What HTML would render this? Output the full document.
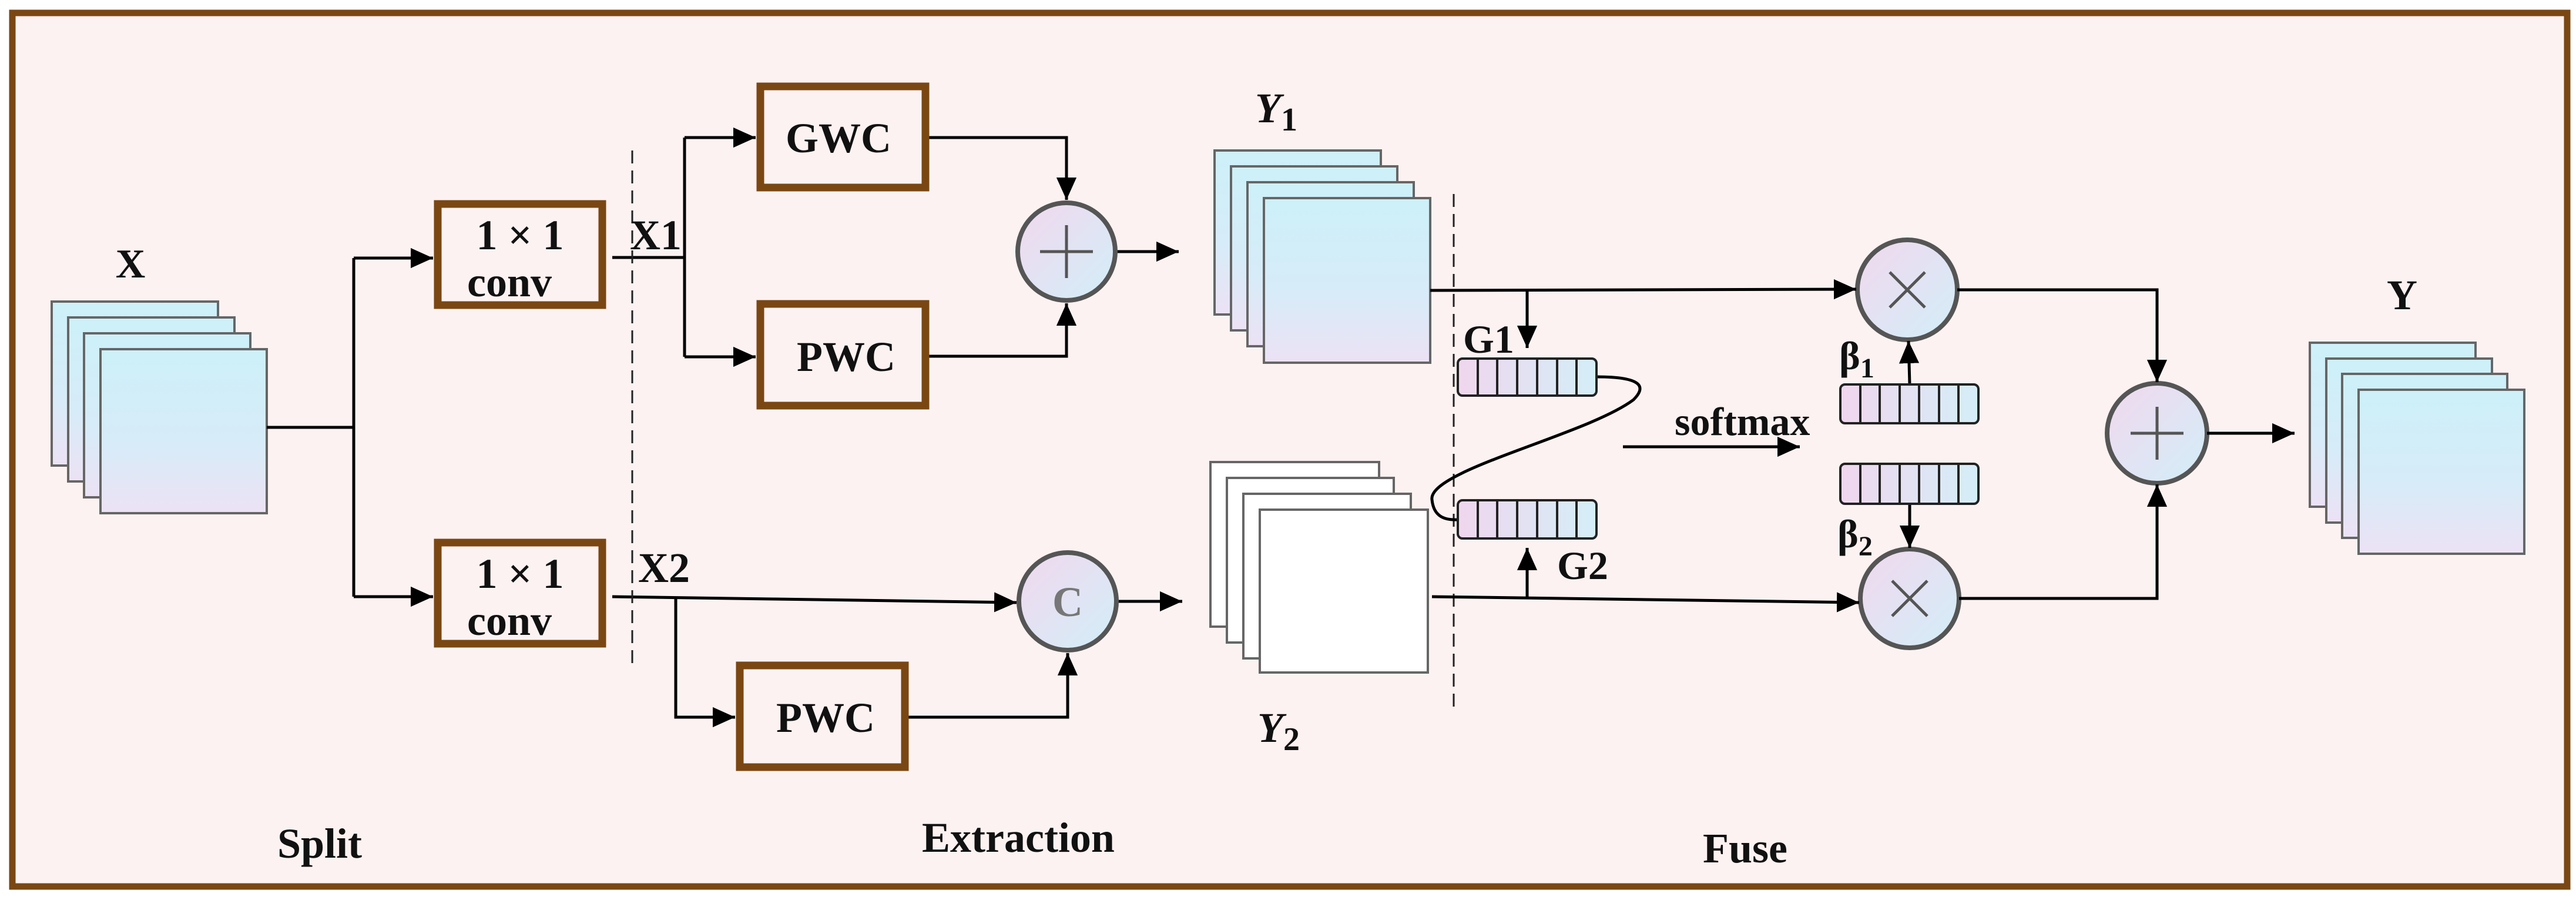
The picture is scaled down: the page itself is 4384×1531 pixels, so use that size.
<!DOCTYPE html>
<html><head><meta charset="utf-8"><style>
html,body{margin:0;padding:0;background:#fff}
svg{display:block}
text{font-family:"Liberation Serif",serif;font-weight:bold;fill:#111}
</style></head><body>
<svg width="4384" height="1531" viewBox="0 0 4384 1531" xmlns="http://www.w3.org/2000/svg">
<defs>
<linearGradient id="fm" x1="0" y1="0" x2="0" y2="1"><stop offset="0" stop-color="#cdf0f9"/><stop offset="0.55" stop-color="#d6ecf8"/><stop offset="1" stop-color="#ece2f5"/></linearGradient>
<linearGradient id="vec" x1="0" y1="0" x2="1" y2="0"><stop offset="0" stop-color="#f0d6ee"/><stop offset="1" stop-color="#d4eef8"/></linearGradient>
<linearGradient id="cir" x1="0" y1="0" x2="1" y2="1"><stop offset="0" stop-color="#f2d8ee"/><stop offset="1" stop-color="#d2eef8"/></linearGradient>
<marker id="a" viewBox="0 0 10 10" refX="10" refY="5" markerWidth="38" markerHeight="38" markerUnits="userSpaceOnUse" orient="auto"><path d="M0,0.5 L10,5 L0,9.5 z" fill="#000"/></marker>
</defs>
<rect x="0" y="0" width="4384" height="1531" fill="#fff"/>
<rect x="21" y="22" width="4348" height="1486" fill="#fdf2f2" stroke="#7a4713" stroke-width="11"/>

<g stroke="#666" stroke-width="4" fill="url(#fm)">
<rect x="88" y="513" width="283" height="279"/>
<rect x="116" y="540" width="283" height="279"/>
<rect x="143" y="567" width="283" height="279"/>
<rect x="171" y="594" width="283" height="279"/>
</g>
<text x="222" y="472" font-size="70" text-anchor="middle">X</text>

<g stroke="#000" stroke-width="5" fill="none">
<polyline points="454,727 602,727"/>
<polyline points="602,439 602,1015"/>
<line x1="602" y1="439" x2="737" y2="439" marker-end="url(#a)"/>
<line x1="602" y1="1015" x2="737" y2="1015" marker-end="url(#a)"/>
<polyline points="1042,438 1165,438"/>
<polyline points="1165,234 1165,607"/>
<line x1="1165" y1="234" x2="1286" y2="234" marker-end="url(#a)"/>
<line x1="1165" y1="607" x2="1286" y2="607" marker-end="url(#a)"/>
<polyline points="1581,234 1815,234 1815,340" marker-end="url(#a)"/>
<polyline points="1581,606 1815,606 1815,516" marker-end="url(#a)"/>
<line x1="1900" y1="428" x2="2006" y2="428" marker-end="url(#a)"/>
<line x1="1042" y1="1015" x2="1730" y2="1025" marker-end="url(#a)"/>
<polyline points="1150,1015 1150,1220 1251,1220" marker-end="url(#a)"/>
<polyline points="1546,1220 1817,1220 1817,1111" marker-end="url(#a)"/>
<line x1="1902" y1="1023" x2="2012" y2="1023" marker-end="url(#a)"/>
</g>

<line x1="1076" y1="256" x2="1076" y2="1137" stroke="#222" stroke-width="3" stroke-dasharray="22,12"/>
<line x1="2474" y1="330" x2="2474" y2="1210" stroke="#222" stroke-width="3" stroke-dasharray="22,12"/>

<g stroke="#7a4713" stroke-width="13" fill="none">
<rect x="745" y="347" width="280" height="172"/>
<rect x="745" y="923" width="280" height="172"/>
<rect x="1294" y="147" width="281" height="172"/>
<rect x="1294" y="517" width="281" height="173"/>
<rect x="1259" y="1132" width="281" height="173"/>
</g>
<g font-size="72" text-anchor="middle">
<text x="885" y="424">1 × 1</text>
<text x="867" y="504">conv</text>
<text x="885" y="1000">1 × 1</text>
<text x="867" y="1080">conv</text>
<text x="1427" y="259">GWC</text>
<text x="1440" y="631">PWC</text>
<text x="1405" y="1245">PWC</text>
<text x="1116" y="424">X1</text>
<text x="1130" y="990">X2</text>
</g>

<g stroke="#555" stroke-width="8" fill="url(#cir)">
<circle cx="1815" cy="428" r="83"/>
<circle cx="1817" cy="1023" r="83"/>
<circle cx="3246" cy="493" r="85"/>
<circle cx="3250" cy="1018" r="84"/>
<circle cx="3671" cy="737" r="85"/>
</g>
<g stroke="#555" stroke-width="5">
<line x1="1770" y1="428" x2="1860" y2="428"/><line x1="1815" y1="383" x2="1815" y2="473"/>
<line x1="3626" y1="737" x2="3716" y2="737"/><line x1="3671" y1="692" x2="3671" y2="782"/>
<line x1="3216" y1="463" x2="3276" y2="523"/><line x1="3276" y1="463" x2="3216" y2="523"/>
<line x1="3220" y1="988" x2="3280" y2="1048"/><line x1="3280" y1="988" x2="3220" y2="1048"/>
</g>
<text x="1817" y="1048" font-size="72" text-anchor="middle" style="fill:#777">C</text>

<g stroke="#666" stroke-width="4" fill="url(#fm)">
<rect x="2067" y="256" width="283" height="279"/>
<rect x="2095" y="283" width="283" height="279"/>
<rect x="2123" y="310" width="283" height="279"/>
<rect x="2151" y="337" width="283" height="280"/>
</g>
<text x="2136" y="208" font-size="72" font-style="italic">Y<tspan font-size="56" font-style="normal" dy="14">1</tspan></text>
<g stroke="#666" stroke-width="4" fill="#fff">
<rect x="2060" y="786" width="287" height="280"/>
<rect x="2088" y="813" width="284" height="280"/>
<rect x="2116" y="840" width="285" height="280"/>
<rect x="2144" y="867" width="286" height="277"/>
</g>
<text x="2140" y="1262" font-size="72" font-style="italic">Y<tspan font-size="56" font-style="normal" dy="14">2</tspan></text>

<g stroke="#000" stroke-width="5" fill="none">
<line x1="2434" y1="494" x2="3159" y2="492" marker-end="url(#a)"/>
<line x1="2599" y1="494" x2="2599" y2="592" marker-end="url(#a)"/>
<line x1="2437" y1="1015" x2="3164" y2="1025" marker-end="url(#a)"/>
<line x1="2599" y1="1016" x2="2599" y2="932" marker-end="url(#a)"/>
<path d="M2717,641 C2800,641 2800,660 2780,680 C2700,740 2430,800 2437,850 C2440,880 2460,885 2481,884"/>
<line x1="2762" y1="760" x2="3063" y2="760" marker-end="url(#a)"/>
<line x1="3250" y1="654" x2="3248" y2="580" marker-end="url(#a)"/>
<line x1="3250" y1="857" x2="3250" y2="932" marker-end="url(#a)"/>
<polyline points="3331,493 3671,493 3671,650" marker-end="url(#a)"/>
<polyline points="3334,1018 3671,1018 3671,824" marker-end="url(#a)"/>
<line x1="3756" y1="737" x2="3905" y2="737" marker-end="url(#a)"/>
</g>

<g stroke="#222" stroke-width="4">
<rect x="2481" y="610" width="236" height="63" rx="8" fill="url(#vec)"/>
<rect x="2481" y="851" width="236" height="65" rx="8" fill="url(#vec)"/>
<rect x="3132" y="654" width="235" height="66" rx="8" fill="url(#vec)"/>
<rect x="3132" y="789" width="235" height="68" rx="8" fill="url(#vec)"/>
<path d="M2515,610v63M2548,610v63M2582,610v63M2616,610v63M2650,610v63M2683,610v63
M2515,851v65M2548,851v65M2582,851v65M2616,851v65M2650,851v65M2683,851v65
M3166,654v66M3199,654v66M3233,654v66M3266,654v66M3300,654v66M3333,654v66
M3166,789v68M3199,789v68M3233,789v68M3266,789v68M3300,789v68M3333,789v68" fill="none"/>
</g>
<g font-size="68">
<text x="2490" y="600">G1</text>
<text x="2650" y="985">G2</text>
<text x="2850" y="740">softmax</text>
<text x="3130" y="628">β<tspan font-size="48" dy="14">1</tspan></text>
<text x="3127" y="931">β<tspan font-size="48" dy="14">2</tspan></text>
</g>

<g stroke="#666" stroke-width="4" fill="url(#fm)">
<rect x="3931" y="583" width="282" height="279"/>
<rect x="3959" y="610" width="282" height="279"/>
<rect x="3986" y="636" width="281" height="279"/>
<rect x="4014" y="663" width="282" height="279"/>
</g>
<text x="4088" y="526" font-size="72" text-anchor="middle">Y</text>

<g font-size="72" text-anchor="middle">
<text x="544" y="1459">Split</text>
<text x="1733" y="1449">Extraction</text>
<text x="2970" y="1467">Fuse</text>
</g>
</svg>
</body></html>
